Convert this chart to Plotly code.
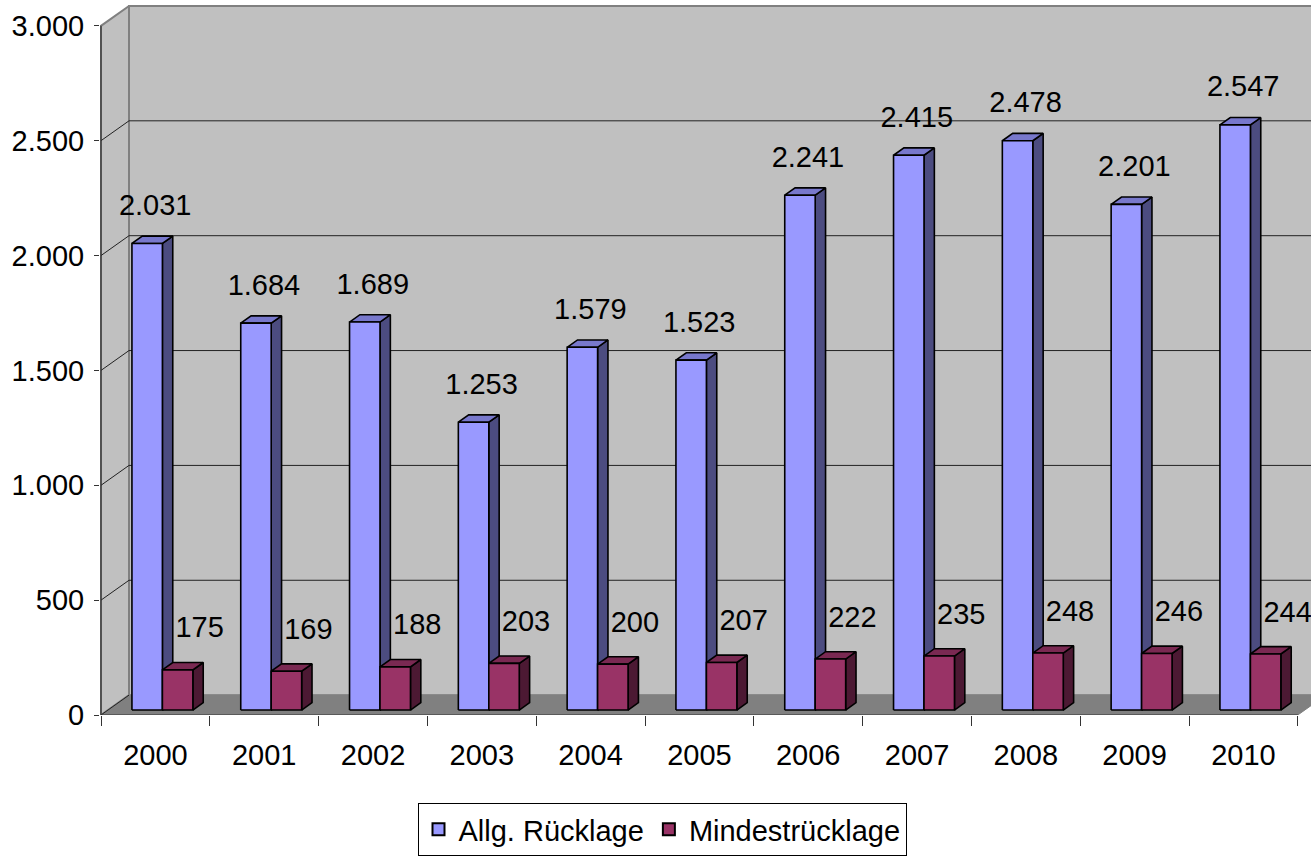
import plotly.graph_objects as go

# ---------------- data ----------------
years = ["2000", "2001", "2002", "2003", "2004", "2005", "2006", "2007", "2008", "2009", "2010"]
allg_ruecklage = [2031, 1684, 1689, 1253, 1579, 1523, 2241, 2415, 2478, 2201, 2547]
mindest_ruecklage = [175, 169, 188, 203, 200, 207, 222, 235, 248, 246, 244]
y_tick_values = [0, 500, 1000, 1500, 2000, 2500, 3000]
series_names = ["Allg. Rücklage", "Mindestrücklage"]

# ---------------- geometry / style ----------------
W, H = 1311, 856
PLOT_LEFT = 100
PLOT_BOTTOM_PX = 720
PX_PER_CAT = 108.8
PX_PER_UNIT = 694 / 3000.0
X0 = -0.5 - 1 / PX_PER_CAT
X1 = X0 + (W - PLOT_LEFT) / PX_PER_CAT
Y1 = PLOT_BOTTOM_PX / PX_PER_UNIT
Y_MAX_AXIS = y_tick_values[-1]
N = len(years)

DEPTH_DX_PX, DEPTH_DY_PX = 28, 20
FONT = "Liberation Sans, Arial, sans-serif"
FS = 29


def off(d):
    return d * DEPTH_DX_PX / PX_PER_CAT, d * DEPTH_DY_PX / PX_PER_UNIT


DX, DY = off(1.0)
FX, FY = off(0.25)   # front face of bars
BX, BY = off(0.62)   # back face of bars
BAR_W = 0.28

colors = {
    0: dict(front="#9999FF", top="#7878CC", side="#4C4C80"),
    1: dict(front="#993366", top="#7A2952", side="#4C1933"),
}

fig = go.Figure()


def poly_trace(xs, ys, fill, line_color, line_width):
    return go.Scatter(x=xs, y=ys, mode="lines", fill="toself", fillcolor=fill,
                      line=dict(color=line_color, width=line_width),
                      hoverinfo="skip", showlegend=False)


# back wall
xr = X1 + 1
fig.add_trace(poly_trace([-0.5 + DX, xr, xr, -0.5 + DX, -0.5 + DX],
                         [DY, DY, Y_MAX_AXIS + DY, Y_MAX_AXIS + DY, DY],
                         "#C0C0C0", "#808080", 2))
# left side wall
fig.add_trace(poly_trace([-0.5, -0.5 + DX, -0.5 + DX, -0.5, -0.5],
                         [0, DY, Y_MAX_AXIS + DY, Y_MAX_AXIS, 0],
                         "#C0C0C0", "#808080", 2))
# floor
fig.add_trace(poly_trace([-0.5, N - 0.5, N - 0.5 + DX, xr, xr, -0.5 + DX, -0.5],
                         [0, 0, DY, DY, DY, DY, 0],
                         "#808080", "#808080", 1))

# gridlines (back wall + side wall diagonals)
gx, gy = [], []
for v in y_tick_values[1:-1]:
    gx += [-0.5, -0.5 + DX, xr, None]
    gy += [v, v + DY, v + DY, None]
fig.add_trace(go.Scatter(x=gx, y=gy, mode="lines", line=dict(color="#222222", width=1),
                         hoverinfo="skip", showlegend=False))
# diagonal at 0 on side wall
fig.add_trace(go.Scatter(x=[-0.5, -0.5 + DX], y=[0, DY], mode="lines",
                         line=dict(color="#222222", width=1), hoverinfo="skip", showlegend=False))

# axis lines
fig.add_trace(go.Scatter(x=[-0.5, -0.5, None, -0.5, N - 0.5], y=[0, Y_MAX_AXIS, None, 0, 0],
                         mode="lines", line=dict(color="#333333", width=1.2),
                         hoverinfo="skip", showlegend=False))

# bars
for s, vals in enumerate([allg_ruecklage, mindest_ruecklage]):
    a = -BAR_W if s == 0 else 0.0
    b = a + BAR_W
    fxs, fys, txs, tys, sxs, sys_ = [], [], [], [], [], []
    for i, v in enumerate(vals):
        xa, xb = i + a, i + b
        fxs += [xa + FX, xb + FX, xb + FX, xa + FX, xa + FX, None]
        fys += [FY, FY, v + FY, v + FY, FY, None]
        txs += [xa + FX, xb + FX, xb + BX, xa + BX, xa + FX, None]
        tys += [v + FY, v + FY, v + BY, v + BY, v + FY, None]
        sxs += [xb + FX, xb + BX, xb + BX, xb + FX, xb + FX, None]
        sys_ += [FY, BY, v + BY, v + FY, FY, None]
    c = colors[s]
    fig.add_trace(poly_trace(sxs, sys_, c["side"], "black", 1.6))
    fig.add_trace(poly_trace(txs, tys, c["top"], "black", 1.6))
    fig.add_trace(poly_trace(fxs, fys, c["front"], "black", 1.6))

# data labels
for s, vals in enumerate([allg_ruecklage, mindest_ruecklage]):
    a = -BAR_W if s == 0 else 0.0
    cx = a + BAR_W / 2 + FX
    dx_px, dy_px = (8, 36) if s == 0 else (22, 40)
    fig.add_trace(go.Scatter(
        x=[i + cx + dx_px / PX_PER_CAT for i in range(N)],
        y=[v + FY + dy_px / PX_PER_UNIT for v in vals],
        mode="text", text=[f"{v:,}".replace(",", ".") for v in vals],
        textposition="middle center", textfont=dict(family=FONT, size=FS, color="black"),
        cliponaxis=False, hoverinfo="skip", showlegend=False))

# legend entries
for s, name in enumerate(series_names):
    fig.add_trace(go.Scatter(x=[None], y=[None], mode="markers", name=name,
                             marker=dict(symbol="square", size=15, color=colors[s]["front"],
                                         line=dict(color="black", width=1.5))))

fig.update_layout(
    width=W, height=H,
    margin=dict(l=PLOT_LEFT, r=0, t=0, b=H - PLOT_BOTTOM_PX, pad=0),
    paper_bgcolor="white", plot_bgcolor="white",
    separators=",.",
    font=dict(family=FONT, size=FS, color="black"),
    showlegend=True,
    legend=dict(orientation="h", x=(662 - PLOT_LEFT) / (W - PLOT_LEFT), xanchor="center",
                y=(PLOT_BOTTOM_PX - 809) / PLOT_BOTTOM_PX, yanchor="top",
                bordercolor="black", borderwidth=1, bgcolor="white",
                font=dict(family=FONT, size=FS), itemsizing="constant", tracegroupgap=0,
                itemwidth=30),
    xaxis=dict(range=[X0, X1], showgrid=False, zeroline=False, showline=False,
               tickmode="array", tickvals=list(range(N)), ticktext=years, ticks="",
               ticklabelstandoff=20, tickfont=dict(family=FONT, size=FS),
               minor=dict(tickmode="array", tickvals=[i - 0.5 for i in range(N + 1)],
                          ticks="outside", ticklen=10, tickcolor="#333333", tickwidth=1.2,
                          showgrid=False)),
    yaxis=dict(range=[0, Y1], showgrid=False, zeroline=False, showline=False,
               tickmode="array", tickvals=y_tick_values, tickformat=",d",
               ticks="outside", ticklen=5, tickcolor="#333333", tickwidth=1.2,
               ticklabelstandoff=4, tickfont=dict(family=FONT, size=FS)),
)

fig.write_html("out.html")
